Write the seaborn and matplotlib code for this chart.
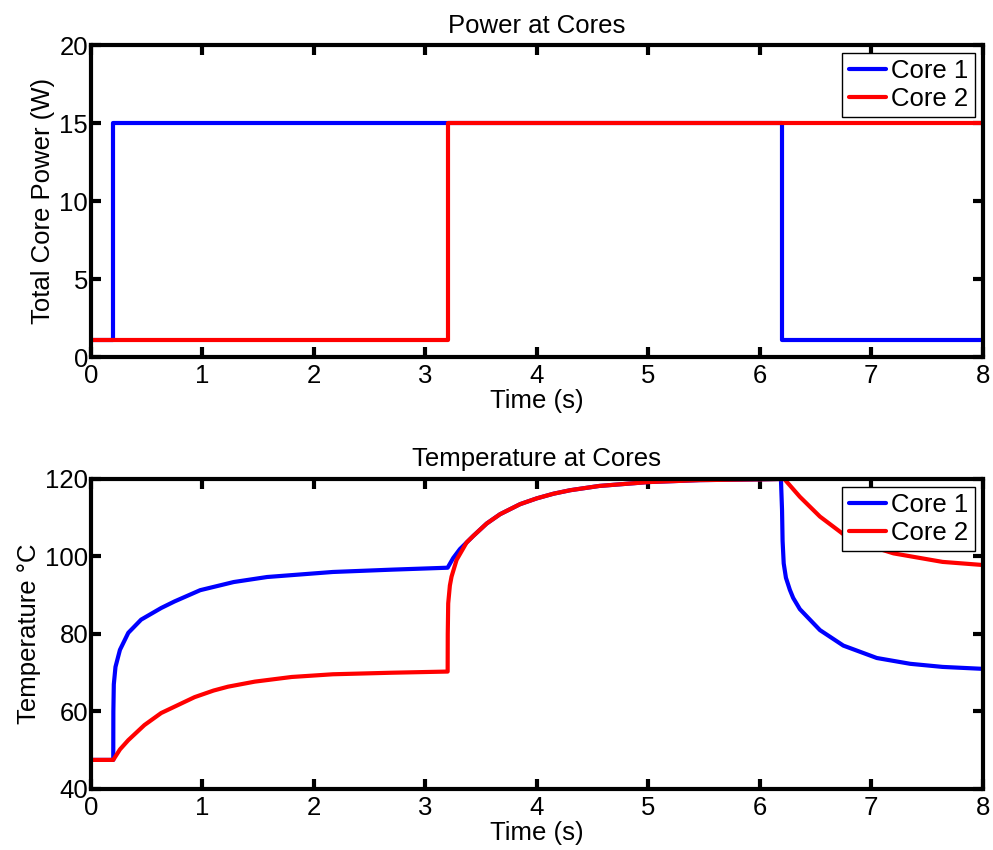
import matplotlib
matplotlib.use("Agg")
import matplotlib.pyplot as plt
import seaborn as sns
import pandas as pd

# ---- data ----
power_time = [0.0, 0.2, 3.2, 6.2, 8.0]
power_core1 = [1.1, 15.0, 15.0, 1.1, 1.1]
power_core2 = [1.1, 1.1, 15.0, 15.0, 15.0]

temp_time_core1 = [0.0, 0.2, 0.201, 0.205, 0.22, 0.26, 0.335, 0.45, 0.63, 0.75, 0.98,
                   1.28, 1.58, 2.17, 2.7, 3.2, 3.25, 3.31, 3.37, 3.43, 3.55, 3.67, 3.85, 4.0,
                   4.15, 4.3, 4.56, 5.0, 5.46, 6.0, 6.19, 6.2, 6.205, 6.215, 6.235,
                   6.27, 6.3, 6.36, 6.54, 6.75, 7.05, 7.35, 7.64, 8.0]
temp_core1 = [47.5, 47.5, 60.0, 67.0, 71.5, 75.9, 80.3, 83.7, 86.7, 88.4, 91.3,
              93.4, 94.7, 96.0, 96.6, 97.1, 99.6, 101.9, 103.6, 105.3, 108.5, 110.9, 113.5, 115.0,
              116.2, 117.1, 118.2, 119.2, 119.7, 119.9, 120.0, 112.0, 104.0, 98.2, 94.5,
              91.4, 89.3, 86.4, 81.0, 77.0, 73.8, 72.3, 71.5, 71.0]

temp_time_core2 = [0.0, 0.2, 0.26, 0.335, 0.48, 0.63, 0.93, 1.1, 1.23, 1.47, 1.8, 2.17,
                   2.7, 3.2, 3.201, 3.205, 3.22, 3.235, 3.28, 3.37, 3.43, 3.55, 3.67,
                   3.85, 4.0, 4.15, 4.3, 4.56, 5.0, 5.46, 6.0, 6.22, 6.36, 6.54,
                   6.78, 7.0, 7.2, 7.64, 8.0]
temp_core2 = [47.5, 47.5, 50.2, 52.6, 56.5, 59.6, 63.7, 65.4, 66.4, 67.7, 68.9, 69.6,
              70.0, 70.3, 80.0, 87.9, 92.5, 94.8, 99.1, 103.6, 105.3, 108.5, 110.9,
              113.5, 115.0, 116.2, 117.1, 118.2, 119.2, 119.7, 119.9, 120.0, 115.4, 110.3,
              105.1, 102.6, 100.8, 98.6, 97.8]

series_names = ["Core 1", "Core 2"]
series_colors = ["#0000FF", "#FF0000"]

# ---- style ----
sns.set_style("ticks")
plt.rcParams["font.family"] = ["Liberation Sans", "DejaVu Sans"]
plt.rcParams["text.color"] = "black"
plt.rcParams["axes.labelcolor"] = "black"
plt.rcParams["xtick.color"] = "black"
plt.rcParams["ytick.color"] = "black"
FS = 18.5

fig = plt.figure(figsize=(9.93, 8.5), dpi=100)
ax1 = fig.add_axes([0.0916, 0.580, 0.898, 0.367])
ax2 = fig.add_axes([0.0916, 0.0718, 0.898, 0.3647])

power_df = pd.DataFrame({"t": power_time * 2,
                         "P": power_core1 + power_core2,
                         "core": [series_names[0]] * len(power_time) + [series_names[1]] * len(power_time)})
for name, col in zip(series_names, series_colors):
    sub = power_df[power_df["core"] == name]
    sns.lineplot(data=sub, x="t", y="P", ax=ax1, color=col, lw=3.0, label=name,
                 drawstyle="steps-post", estimator=None, sort=False)

temp_df = pd.DataFrame({"t": temp_time_core1 + temp_time_core2,
                        "T": temp_core1 + temp_core2,
                        "core": [series_names[0]] * len(temp_time_core1) + [series_names[1]] * len(temp_time_core2)})
for name, col in zip(series_names, series_colors):
    sub = temp_df[temp_df["core"] == name]
    sns.lineplot(data=sub, x="t", y="T", ax=ax2, color=col, lw=3.0, label=name,
                 estimator=None, sort=False)

for ax, title, ylabel, ylim, yticks in [
        (ax1, "Power at Cores", "Total Core Power (W)", (0, 20), [0, 5, 10, 15, 20]),
        (ax2, "Temperature at Cores", "Temperature \u00b0C", (40, 120), [40, 60, 80, 100, 120])]:
    ax.set_xlim(0, 8)
    ax.set_ylim(*ylim)
    ax.set_xticks(range(0, 9))
    ax.set_yticks(yticks)
    ax.set_title(title, fontsize=FS, pad=9, color="black")
    ax.set_xlabel("Time (s)", fontsize=FS, labelpad=1, color="black")
    ax.set_ylabel(ylabel, fontsize=FS, labelpad=3, color="black")
    for s in ax.spines.values():
        s.set_visible(True)
        s.set_linewidth(3.0)
        s.set_color("black")
    ax.tick_params(direction="in", length=7, width=3, top=True, right=True,
                   labelsize=FS, colors="black")
    ax.tick_params(axis="x", pad=5)
    ax.tick_params(axis="y", pad=2)
    leg = ax.legend(loc="upper right", fontsize=FS, frameon=True, fancybox=False,
                    handlelength=1.45, handletextpad=0.2, borderpad=0.25,
                    labelspacing=0.15, borderaxespad=0.3)
    for txt in leg.get_texts():
        txt.set_color("black")
    leg.get_frame().set_edgecolor("black")
    leg.get_frame().set_linewidth(1.0)
    leg.get_frame().set_alpha(1.0)

fig.savefig("out.png", dpi=100)
